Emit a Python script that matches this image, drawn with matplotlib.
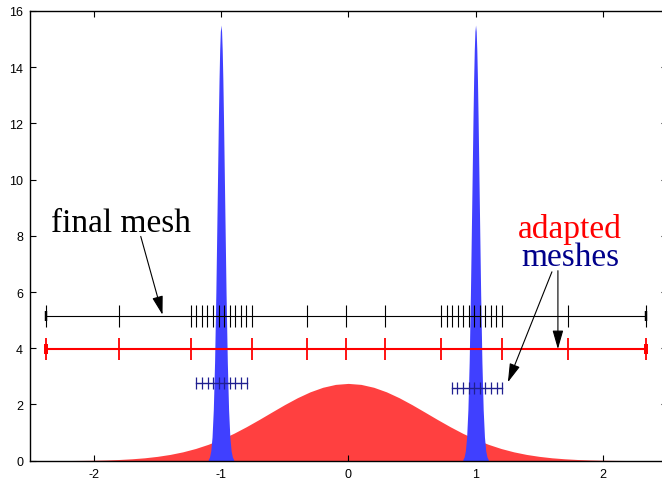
import numpy as np
import matplotlib
matplotlib.use("Agg")
import matplotlib.pyplot as plt

plt.rcParams['axes.unicode_minus'] = False

# --- data ---
# smooth red bump (sampled every 0.1 from -2.5 to 2.5)
red_x = np.linspace(-2.5, 2.5, 51)
red_half = [0.001, 0.002, 0.003, 0.006, 0.010, 0.016, 0.027, 0.043, 0.068, 0.103,
            0.154, 0.223, 0.315, 0.434, 0.583, 0.763, 0.973, 1.211, 1.467, 1.733,
            1.996, 2.240, 2.450, 2.612, 2.715]
red_y = red_half + [2.75] + red_half[::-1]

# narrow blue spikes, same profile at both centres
spike_centres = [-1.0, 1.0]
spike_dx = [-0.10, -0.09, -0.08, -0.07, -0.06, -0.05, -0.04, -0.03, -0.02, -0.015,
            -0.01, -0.005, 0.0, 0.005, 0.01, 0.015, 0.02, 0.03, 0.04, 0.05,
            0.06, 0.07, 0.08, 0.09, 0.10]
spike_h = [0.04, 0.13, 0.35, 0.84, 1.82, 3.51, 5.99, 9.08, 12.2, 13.56,
           14.6, 15.27, 15.5, 15.27, 14.6, 13.56, 12.2, 9.08, 5.99, 3.51,
           1.82, 0.84, 0.35, 0.13, 0.04]

# meshes
final_y = 5.15
final_nodes = [-2.372, -1.804,
               -1.239, -1.195, -1.151, -1.107, -1.063, -1.019, -0.976, -0.932,
               -0.888, -0.844, -0.800, -0.756,
               -0.322, -0.016, 0.290,
               0.728, 0.772, 0.816, 0.860, 0.903, 0.947, 0.990, 1.034,
               1.077, 1.120, 1.164, 1.207,
               1.730, 2.340]

red_mesh_y = 3.97
red_nodes = [-2.372, -1.804, -1.239, -0.756, -0.322, -0.016, 0.290, 0.728,
             1.207, 1.730, 2.340]

blue_left_y = 2.77
blue_left = [-1.194, -1.149, -1.105, -1.063, -1.019, -0.974, -0.932, -0.888,
             -0.843, -0.799]
blue_right_y = 2.59
blue_right = [0.812, 0.857, 0.901, 0.946, 0.990, 1.032, 1.077, 1.121, 1.165, 1.208]

xticks = [-2, -1, 0, 1, 2]
yticks = [0, 2, 4, 6, 8, 10, 12, 14, 16]

fig = plt.figure(figsize=(6.62, 4.81), dpi=100)
ax = fig.add_axes([30 / 662, 19.3 / 481, 636.5 / 662, 449.7 / 481])

ax.fill_between(red_x, red_y, 0, color='#ff4040', lw=0, zorder=1)
for c in spike_centres:
    ax.fill_between(np.array(spike_dx) + c, spike_h, 0, color='#4040ff', lw=0, zorder=2)


def draw_mesh(nodes, y, color, lw, tick, tick_w):
    ax.plot([nodes[0], nodes[-1]], [y, y], color=color, lw=lw, zorder=3,
            solid_capstyle='butt')
    ax.plot(nodes, [y] * len(nodes), ls='none', marker='|', ms=tick, mew=tick_w,
            color=color, zorder=4)
    # thicker little caps at both ends
    ax.plot([nodes[0], nodes[-1]], [y, y], ls='none', marker='|', ms=tick * 0.45,
            mew=tick_w * 2.2, color=color, zorder=4)


draw_mesh(final_nodes, final_y, 'black', 0.8, 15.6, 0.8)
draw_mesh(red_nodes, red_mesh_y, '#ff0000', 1.5, 16.3, 1.3)
ax.plot([blue_left[0], blue_left[-1]], [blue_left_y] * 2, color='#202090', lw=1.0, zorder=3)
ax.plot(blue_left, [blue_left_y] * len(blue_left), ls='none', marker='|', ms=8,
        mew=0.9, color='#202090', zorder=4)
ax.plot([blue_right[0], blue_right[-1]], [blue_right_y] * 2, color='#202090', lw=1.0, zorder=3)
ax.plot(blue_right, [blue_right_y] * len(blue_right), ls='none', marker='|', ms=8,
        mew=0.9, color='#202090', zorder=4)

serif = ['Liberation Serif', 'DejaVu Serif']
ax.text(-1.784, 8.17, 'final mesh', ha='center', va='baseline', fontsize=24,
        family=serif, color='black')
ax.text(1.743, 7.95, 'adapted', ha='center', va='baseline', fontsize=24,
        family=serif, color='#ff0000')
ax.text(1.746, 6.97, 'meshes', ha='center', va='baseline', fontsize=24,
        family=serif, color='#00008b')

arrow = dict(arrowstyle='-|>,head_length=1.15,head_width=0.33', color='black',
             lw=0.8, shrinkA=0, shrinkB=0, mutation_scale=10)
ax.annotate('', xy=(-1.459, 5.19), xytext=(-1.63, 7.98), arrowprops=arrow, zorder=5)
ax.annotate('', xy=(1.647, 3.97), xytext=(1.647, 6.76), arrowprops=arrow, zorder=5)
ax.annotate('', xy=(1.254, 2.79), xytext=(1.600, 6.72), arrowprops=arrow, zorder=5)

ax.set_xlim(-2.5, 2.5)
ax.set_ylim(0, 16)
ax.set_xticks(xticks)
ax.set_yticks(yticks)
ax.tick_params(direction='in', length=4.5, width=0.8, top=True, right=True,
               labelsize=9, pad=5)
for lab in ax.get_xticklabels() + ax.get_yticklabels():
    lab.set_family(['Liberation Sans', 'DejaVu Sans'])
for s in ax.spines.values():
    s.set_linewidth(1.0)

fig.savefig('out.png', dpi=100)
